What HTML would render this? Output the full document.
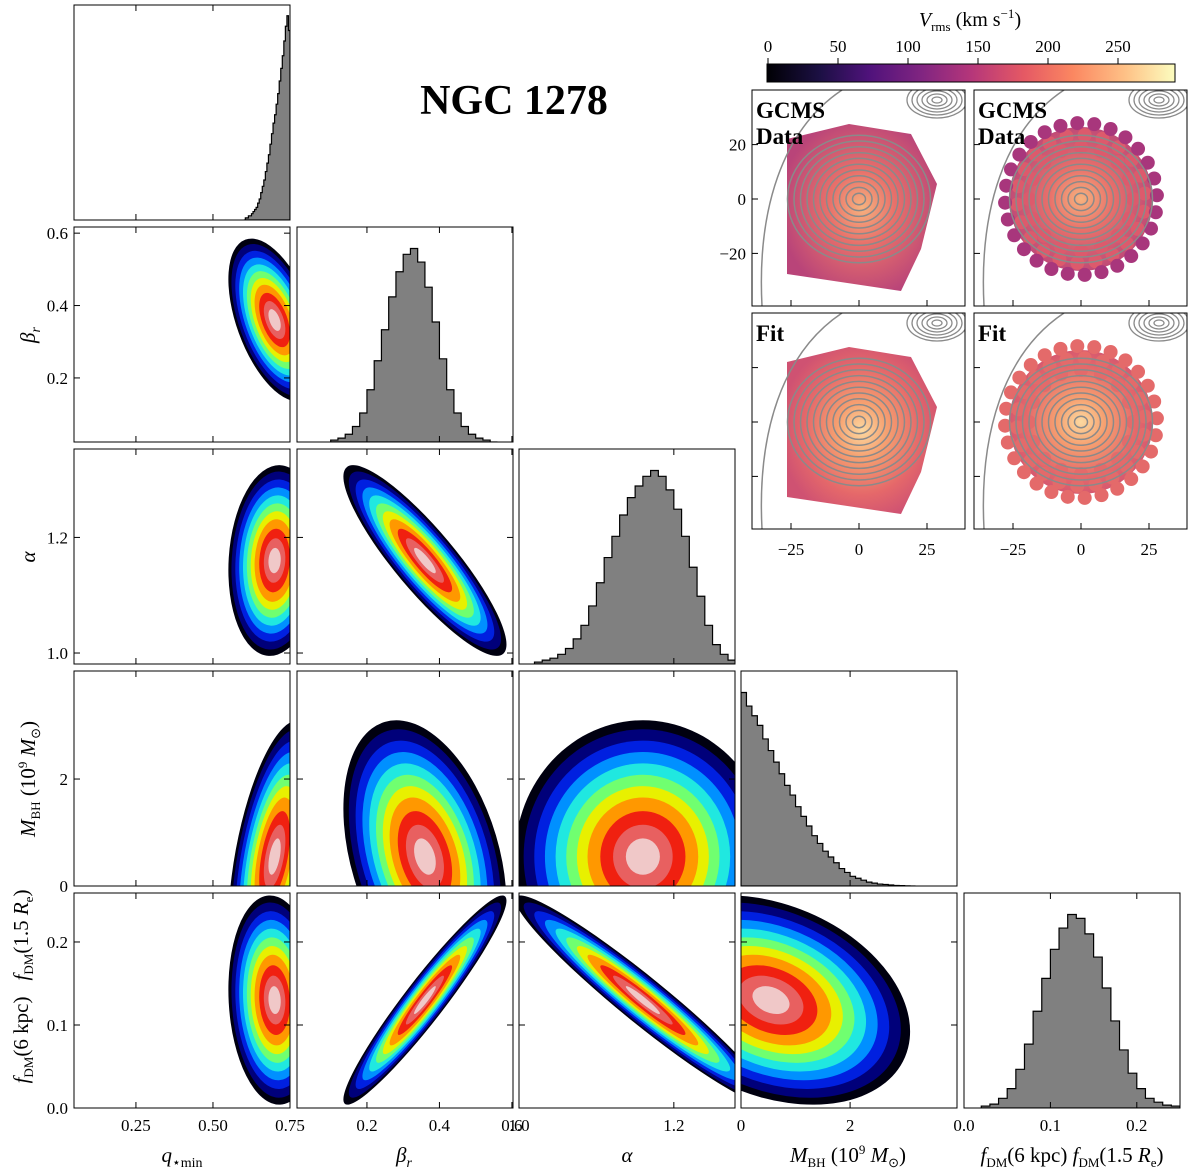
<!DOCTYPE html>
<html><head><meta charset="utf-8">
<style>
html,body{margin:0;padding:0;background:#fff;}
svg{display:block;font-family:"Liberation Serif",serif;}
</style></head>
<body>
<svg id="chart" width="1200" height="1171" viewBox="0 0 1200 1171" xmlns="http://www.w3.org/2000/svg">
<defs>
<linearGradient id="magma" x1="0" x2="1" y1="0" y2="0">
<stop offset="0" stop-color="#000004"/><stop offset="0.13" stop-color="#1c1044"/><stop offset="0.25" stop-color="#4f127b"/>
<stop offset="0.38" stop-color="#812581"/><stop offset="0.5" stop-color="#b5367a"/><stop offset="0.63" stop-color="#e55964"/>
<stop offset="0.75" stop-color="#fb8761"/><stop offset="0.88" stop-color="#fec287"/><stop offset="1" stop-color="#fcfdbf"/>
</linearGradient>
<radialGradient id="dataFill" cx="0.5" cy="0.5" r="0.55">
<stop offset="0" stop-color="#f7b27e"/><stop offset="0.4" stop-color="#e8706a"/><stop offset="1" stop-color="#b94479"/>
</radialGradient>
<radialGradient id="fitFill" cx="0.5" cy="0.5" r="0.55">
<stop offset="0" stop-color="#fcd9a0"/><stop offset="0.3" stop-color="#f6a070"/><stop offset="0.7" stop-color="#e5686a"/><stop offset="1" stop-color="#cf5272"/>
</radialGradient>
</defs>
<g id="layer"></g>
</svg>
<script>
// ---- data ----
const paramNames = ["q", "beta", "alpha", "mbh", "fdm"];
const paramMeans = [0.70, 0.36, 1.16, 0.55, 0.13];
const paramSds = [0.05, 0.075, 0.055, 0.85, 0.042];
const corrQ = [1, -0.5, 0.1, 0.5, -0.1];
const corrBeta = [-0.5, 1, -0.88, -0.35, 0.95];
const corrAlpha = [0.1, -0.88, 1, 0.0, -0.96];
const corrMbh = [0.5, -0.35, 0.0, 1, -0.3];
const corrFdm = [-0.1, 0.95, -0.96, -0.3, 1];
const corrMatrix = [corrQ, corrBeta, corrAlpha, corrMbh, corrFdm];

const histQStart = 0.60, histQStep = 0.005;
const histQ = [0.00,0.01,0.01,0.02,0.02,0.03,0.04,0.05,0.06,0.08,0.10,0.13,0.16,0.19,0.23,0.27,0.31,0.36,0.41,0.46,0.50,0.55,0.60,0.66,0.72,0.78,0.85,0.92,0.97,0.90];
const histBetaStart = 0.10, histBetaStep = 0.02;
const histBeta = [0.01,0.02,0.04,0.08,0.15,0.27,0.42,0.58,0.75,0.88,0.97,1.0,0.93,0.80,0.62,0.43,0.27,0.15,0.08,0.04,0.02,0.01,0.0];
const histAlphaStart = 1.02, histAlphaStep = 0.01;
const histAlpha = [0.01,0.02,0.03,0.05,0.08,0.13,0.20,0.30,0.42,0.55,0.66,0.77,0.86,0.92,0.97,1.0,0.97,0.90,0.80,0.66,0.50,0.35,0.20,0.10,0.05,0.02];
const histMbhStart = 0, histMbhStep = 0.1;
const histMbh = [1,0.93,0.88,0.83,0.76,0.70,0.64,0.58,0.52,0.47,0.41,0.36,0.31,0.26,0.22,0.18,0.15,0.12,0.09,0.07,0.05,0.04,0.03,0.02,0.015,0.01,0.008,0.005,0.003,0.002,0.001,0.0];
const histFdmStart = 0.02, histFdmStep = 0.01;
const histFdm = [0.01,0.02,0.05,0.10,0.20,0.33,0.50,0.67,0.82,0.93,1.0,0.98,0.90,0.78,0.62,0.45,0.30,0.18,0.10,0.05,0.03,0.015,0.01];
const histStarts = [histQStart, histBetaStart, histAlphaStart, histMbhStart, histFdmStart];
const histSteps = [histQStep, histBetaStep, histAlphaStep, histMbhStep, histFdmStep];
const histCounts = [histQ, histBeta, histAlpha, histMbh, histFdm];

const xTicksQ = [0.25, 0.50, 0.75];
const xTicksBeta = [0.2, 0.4, 0.6];
const xTicksAlpha = [1.0, 1.2];
const xTicksMbh = [0, 2];
const xTicksFdm = [0.0, 0.1, 0.2];
const xTickLists = [xTicksQ, xTicksBeta, xTicksAlpha, xTicksMbh, xTicksFdm];
const xTickLabelsFmt = [2, 1, 1, 0, 1];
const yTicksBeta = [0.2, 0.4, 0.6];
const yTicksAlpha = [1.0, 1.2];
const yTicksMbh = [0, 2];
const yTicksFdm = [0.0, 0.1, 0.2];
const yTickLists = [null, yTicksBeta, yTicksAlpha, yTicksMbh, yTicksFdm];

const cbarTicks = [0, 50, 100, 150, 200, 250];
const mapTicks = [-25, 0, 25];
const mapYTicks = [20, 0, -20];

// ---- layout ----
const colX = [74, 297, 519, 741, 964];
const rowY = [5, 227, 449, 671, 893];
const W = 216, H = 215;
const xDomain = [[0.049, 0.75], [0.007, 0.603], [1.0, 1.279], [0, 3.96], [0.0, 0.25]];
const yDomain = [null, [0.023, 0.617], [0.981, 1.353], [0, 4.02], [0.0, 0.259]];

const NS = "http://www.w3.org/2000/svg";
const layer = document.getElementById("layer");
function mk(tag, attrs, parent) {
  const e = document.createElementNS(NS, tag);
  for (const k in attrs) e.setAttribute(k, attrs[k]);
  (parent || layer).appendChild(e);
  return e;
}
function xScale(c, v) { const d = xDomain[c]; return colX[c] + (v - d[0]) / (d[1] - d[0]) * W; }
function yScale(r, v) { const d = yDomain[r]; return rowY[r] + H - (v - d[0]) / (d[1] - d[0]) * H; }

const levels = [3.0, 2.8, 2.55, 2.3, 2.05, 1.8, 1.55, 1.3, 1.0, 0.7, 0.4];
const levelColors = ["#000010", "#00007a", "#0020e0", "#0090ff", "#20e8e0", "#70ff70", "#e8f000", "#ff9800", "#f02010", "#e86060", "#f0c8c8"];

// panels
for (let r = 0; r < 5; r++) {
  for (let c = 0; c <= r; c++) {
    const g = mk("g", {});
    
    
    const cid = "clip" + r + c;
    const cp = mk("clipPath", { id: cid }, g);
    mk("rect", { x: colX[c], y: rowY[r], width: W, height: H }, cp);
    const inner = mk("g", { "clip-path": "url(#" + cid + ")" }, g);
    if (r === c) {
      // histogram
      const counts = histCounts[c];
      const mx = Math.max(...counts);
      const hScale = (c === 0 ? 0.95 : 0.9) * H / mx;
      let d = "";
      const base = rowY[r] + H;
      for (let i = 0; i < counts.length; i++) {
        const x0 = xScale(c, histStarts[c] + i * histSteps[c]);
        const x1 = xScale(c, histStarts[c] + (i + 1) * histSteps[c]);
        const y = base - counts[i] * hScale;
        d += (i === 0 ? "M" + x0 + "," + base + " L" + x0 + "," + y : " L" + x0 + "," + y) + " L" + x1 + "," + y;
        if (i === counts.length - 1) d += " L" + x1 + "," + base + " Z";
      }
      const p = mk("path", { d: d, fill: "#808080", stroke: "#000", "stroke-width": 1.2 }, inner);
      
      
    } else {
      // density ellipses
      const pxX = W / (xDomain[c][1] - xDomain[c][0]);
      const pxY = H / (yDomain[r][1] - yDomain[r][0]);
      const sx = paramSds[c] * pxX, sy = paramSds[r] * pxY;
      const rho = corrMatrix[r][c];
      const a = sx * sx, b = sy * sy, cv = -rho * sx * sy;
      const ang = 0.5 * Math.atan2(2 * cv, a - b);
      const tr = (a + b) / 2, df = Math.sqrt(((a - b) / 2) ** 2 + cv * cv);
      const l1 = Math.sqrt(tr + df), l2 = Math.sqrt(Math.max(tr - df, 0.5));
      const cx = xScale(c, paramMeans[c]), cy = yScale(r, paramMeans[r]);
      for (let k = 0; k < levels.length; k++) {
        const e = mk("ellipse", { cx: cx, cy: cy, rx: l1 * levels[k], ry: l2 * levels[k], fill: levelColors[k],
          transform: "rotate(" + (ang * 180 / Math.PI) + " " + cx + " " + cy + ")" }, inner);
        
        
      }
    }
    const fr = mk("rect", { x: colX[c], y: rowY[r], width: W, height: H, fill: "none", stroke: "#000", "stroke-width": 1 }, g);
    
    
    // x ticks
    for (const t of xTickLists[c]) {
      const x = xScale(c, t);
      if (x < colX[c] - 1 || x > colX[c] + W + 1) continue;
      mk("line", { x1: x, x2: x, y1: rowY[r] + H, y2: rowY[r] + H - 6, stroke: "#000" }, g);
      mk("line", { x1: x, x2: x, y1: rowY[r], y2: rowY[r] + 6, stroke: "#000" }, g);
      if (r === 4) {
        const tx = mk("text", { x: x, y: 1131, "font-size": 17, "text-anchor": "middle" }, g);
        tx.textContent = t.toFixed(xTickLabelsFmt[c]);
        
        
      }
    }
    if (r > 0 && c < r) {
      for (const t of yTickLists[r]) {
        const y = yScale(r, t);
        mk("line", { x1: colX[c], x2: colX[c] + 6, y1: y, y2: y, stroke: "#000" }, g);
        mk("line", { x1: colX[c] + W, x2: colX[c] + W - 6, y1: y, y2: y, stroke: "#000" }, g);
        if (c === 0) {
          const ty = mk("text", { x: 68, y: y + 6, "font-size": 17, "text-anchor": "end" }, g);
          ty.textContent = t.toFixed(r === 3 ? 0 : 1);
          
          
        }
      }
    }
  }
}
</script>
<svg style="position:absolute;left:0;top:0" width="1200" height="1171" viewBox="0 0 1200 1171" xmlns="http://www.w3.org/2000/svg" font-family="Liberation Serif, serif">
<text x="514" y="114" font-size="42" font-weight="bold" text-anchor="middle">NGC 1278</text>
<!-- axis labels -->
<g font-size="21" font-style="italic">
<text x="182" y="1162" text-anchor="middle">q<tspan font-size="14" dy="5" font-style="normal">⋆min</tspan></text>
<text x="404" y="1162" text-anchor="middle">β<tspan font-size="14" dy="5">r</tspan></text>
<text x="627" y="1162" text-anchor="middle">α</text>
<text x="848" y="1162" text-anchor="middle">M<tspan font-size="13" dy="5" font-style="normal">BH</tspan><tspan dy="-5" font-style="normal"> (10</tspan><tspan font-size="13" dy="-8" font-style="normal">9</tspan><tspan dy="8"> M</tspan><tspan font-size="13" dy="5" font-style="normal">⊙</tspan><tspan dy="-5" font-style="normal">)</tspan></text>
<text x="1072" y="1162" text-anchor="middle">f<tspan font-size="13" dy="5" font-style="normal">DM</tspan><tspan dy="-5" font-style="normal">(6 kpc)  </tspan>f<tspan font-size="13" dy="5" font-style="normal">DM</tspan><tspan dy="-5" font-style="normal">(1.5 </tspan>R<tspan font-size="13" dy="5" font-style="normal">e</tspan><tspan dy="-5" font-style="normal">)</tspan></text>
</g>
<g font-size="21" font-style="italic">
<text transform="translate(35 335) rotate(-90)" text-anchor="middle">β<tspan font-size="14" dy="5">r</tspan></text>
<text transform="translate(35 557) rotate(-90)" text-anchor="middle">α</text>
<text transform="translate(35 779) rotate(-90)" text-anchor="middle">M<tspan font-size="13" dy="5" font-style="normal">BH</tspan><tspan dy="-5" font-style="normal"> (10</tspan><tspan font-size="13" dy="-8" font-style="normal">9</tspan><tspan dy="8"> M</tspan><tspan font-size="13" dy="5" font-style="normal">⊙</tspan><tspan dy="-5" font-style="normal">)</tspan></text>
<text transform="translate(28 1040) rotate(-90)" text-anchor="middle">f<tspan font-size="13" dy="5" font-style="normal">DM</tspan><tspan dy="-5" font-style="normal">(6 kpc)</tspan></text>
<text transform="translate(28 935) rotate(-90)" text-anchor="middle">f<tspan font-size="13" dy="5" font-style="normal">DM</tspan><tspan dy="-5" font-style="normal">(1.5 </tspan>R<tspan font-size="13" dy="5" font-style="normal">e</tspan><tspan dy="-5" font-style="normal">)</tspan></text>
</g>
<!-- colorbar -->
<g>
<text x="970" y="26" font-size="20" text-anchor="middle"><tspan font-style="italic">V</tspan><tspan font-size="13" dy="5">rms</tspan><tspan dy="-5"> (km s</tspan><tspan font-size="13" dy="-8">−1</tspan><tspan dy="8">)</tspan></text>
<rect x="767" y="64" width="408" height="18" fill="url(#magma)" stroke="#000"/>
<g id="cbticks" font-size="17" text-anchor="middle"></g>
</g>
<g id="maps"></g>
</svg>
<script>
(function(){
const NS = "http://www.w3.org/2000/svg";
function mk(tag, attrs, parent) { const e = document.createElementNS(NS, tag); for (const k in attrs) e.setAttribute(k, attrs[k]); parent.appendChild(e); return e; }
const cb = document.getElementById("cbticks");
for (const t of cbarTicks) {
  const x = 768 + t * 1.4;
  mk("line", { x1: x, x2: x, y1: 64, y2: 58, stroke: "#000" }, cb);
  const tx = mk("text", { x: x, y: 52 }, cb); tx.textContent = t;
  
  
}
const maps = document.getElementById("maps");
const panels = [[752, 90, "GCMS\nData", "data", false], [974, 90, "GCMS\nData", "data", true], [752, 313, "Fit", "fit", false], [974, 313, "Fit", "fit", true]];
panels.forEach((p, i) => {
  const [x0, y0, label, kind, dots] = p;
  const g = mk("g", {}, maps);
  
  
  const cid = "mclip" + i;
  const cp = mk("clipPath", { id: cid }, g);
  mk("rect", { x: x0, y: y0, width: 213, height: 216 }, cp);
  const inner = mk("g", { "clip-path": "url(#" + cid + ")" }, g);
  const cx = x0 + 107, cy = y0 + 109;
  const fill = kind === "data" ? "url(#dataFill)" : "url(#fitFill)";
  if (!dots) {
    const pts = [[-72,-60],[-10,-75],[52,-65],[78,-15],[62,50],[42,92],[-72,75]];
    mk("polygon", { points: pts.map(q => (cx + q[0]) + "," + (cy + q[1])).join(" "), fill: fill }, inner);
  } else {
    mk("circle", { cx: cx, cy: cy, r: 72, fill: fill }, inner);
    for (let ring = 0; ring < 3; ring++) {
      const rr = 52 + ring * 12, n = 16 + ring * 6;
      for (let k = 0; k < n; k++) {
        const a = k / n * Math.PI * 2 + ring * 0.2;
        const col = kind === "data" ? (ring === 2 ? "#a8367c" : "#dd5a6c") : "#e46a6a";
        mk("circle", { cx: cx + rr * Math.cos(a), cy: cy + rr * Math.sin(a), r: 7, fill: col }, inner);
      }
    }
  }
  for (let k = 1; k <= 11; k++) {
    mk("ellipse", { cx: cx, cy: cy, rx: k * 6.5, ry: k * 5.8, fill: "none", stroke: "#8a8a8a", "stroke-width": 1.5 }, inner);
  }
  mk("path", { d: "M" + (x0 + 10) + "," + (y0 + 216) + " C" + (x0 + 5) + "," + (y0 + 120) + " " + (x0 + 30) + "," + (y0 + 40) + " " + (x0 + 90) + "," + y0, fill: "none", stroke: "#8a8a8a", "stroke-width": 1.5 }, inner);
  for (let k = 1; k <= 6; k++) mk("ellipse", { cx: x0 + 185, cy: y0 + 10, rx: k * 5, ry: k * 3, fill: "none", stroke: "#8a8a8a", "stroke-width": 1.3 }, inner);
  mk("rect", { x: x0, y: y0, width: 213, height: 216, fill: "none", stroke: "#000" }, g);
  const lines = label.split("\n");
  lines.forEach((ln, j) => { const t = mk("text", { x: x0 + 4, y: y0 + 28 + j * 26, "font-size": 23, "font-weight": "bold" }, g); t.textContent = ln;
      });
  for (const t of mapTicks) {
    const x = cx + t * 2.72;
    mk("line", { x1: x, x2: x, y1: y0 + 216, y2: y0 + 210, stroke: "#000" }, g);
    if (y0 > 200) { const tx = mk("text", { x: x, y: 555, "font-size": 17, "text-anchor": "middle" }, g); tx.textContent = t < 0 ? "−" + (-t) : t;
        }
  }
  for (const t of mapYTicks) {
    const y = cy - t * 2.72;
    mk("line", { x1: x0, x2: x0 + 6, y1: y, y2: y, stroke: "#000" }, g);
    if (i === 0) { const ty = mk("text", { x: 746, y: y + 6, "font-size": 17, "text-anchor": "end" }, g); ty.textContent = t < 0 ? "−" + (-t) : t;
        }
  }
});
})();
</script>
</body></html>
